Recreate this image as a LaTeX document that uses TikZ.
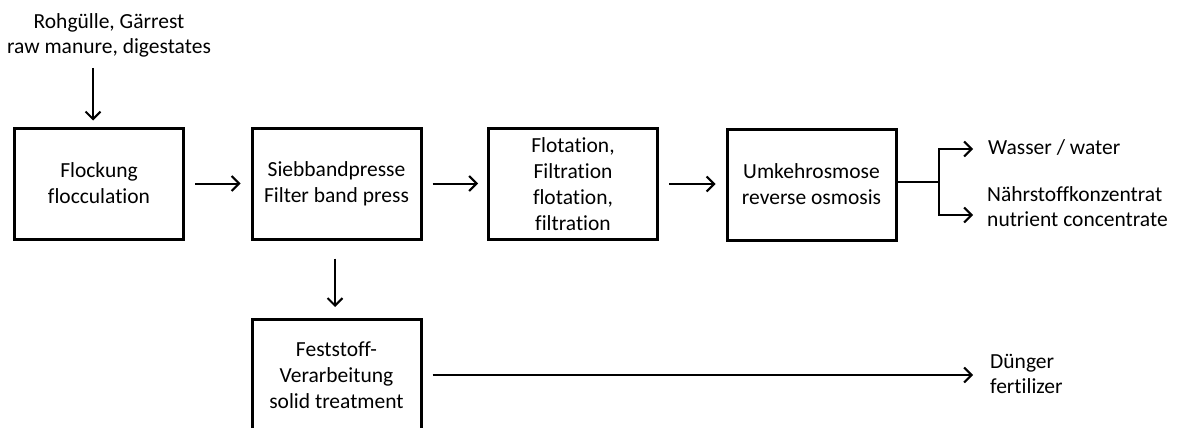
\documentclass[tikz,border=0pt]{standalone}
\usepackage{fontspec}
\setmainfont[Ligatures={NoCommon}]{Carlito}
\usetikzlibrary{arrows.meta}
\tikzset{
  procbox/.style={draw, line width=3pt, minimum width=169pt, minimum height=111pt, inner sep=0pt, align=center, font=\fontsize{21.5}{26}\selectfont},
  lbl/.style={inner sep=0pt, align=left, font=\fontsize{21.5}{25.5}\selectfont},
  arr/.style={line width=2pt, -{Straight Barb[length=7.5pt,width=15pt,line width=2pt]}},
  plain/.style={line width=2pt}
}
\begin{document}
\begin{tikzpicture}[x=1pt,y=-1pt]
\useasboundingbox (0,0) rectangle (1180,428);
\clip (0,0) rectangle (1180,428);
\node[lbl, align=center] (input) at (109,35.5) {Rohgülle, Gärrest\\raw manure, digestates};
\node[procbox] (flock) at (99,183.5) {Flockung\\flocculation};
\node[procbox] (sieb) at (336.5,183.5) {Siebbandpresse\\Filter band press};
\node[procbox] (flot) at (573,184) {Flotation,\\Filtration\\flotation,\\filtration};
\node[procbox] (umk) at (811.5,184.5) {Umkehrosmose\\reverse osmosis};
\node[procbox] (fest) at (336.5,375) {Feststoff-\\Verarbeitung\\solid treatment};
\node[lbl, anchor=west] (water) at (988,147) {Wasser / water};
\node[lbl, anchor=west] (nutr) at (987,206.5) {Nährstoffkonzentrat\\nutrient concentrate};
\node[lbl, anchor=west] (dung) at (990,374) {Dünger\\fertilizer};
\coordinate (inA) at (93,68);
\coordinate (split) at (939,182);
\coordinate (wA) at (973,149);
\coordinate (nA) at (973,215);
\draw[arr, shorten >=6pt] (inA) -- (inA |- flock.north);
\draw[arr, shorten <=10pt, shorten >=10pt] (flock.east) -- (sieb.west |- flock.east);
\draw[arr, shorten <=10pt, shorten >=9pt] (sieb.east) -- (flot.west |- sieb.east);
\draw[arr, shorten <=10pt, shorten >=10pt] (flot.east) -- (umk.west |- flot.east);
\draw[arr, shorten <=18pt, shorten >=11pt] (sieb.south -| 335,0) -- (fest.north -| 335,0);
\draw[plain] (umk.east |- split) -- (split);
\draw[arr] (split) |- (wA);
\draw[arr] (split) |- (nA);
\draw[arr, shorten <=10pt, shorten >=17pt] (fest.east) -- (dung.west |- fest.east);
\end{tikzpicture}
\end{document}
